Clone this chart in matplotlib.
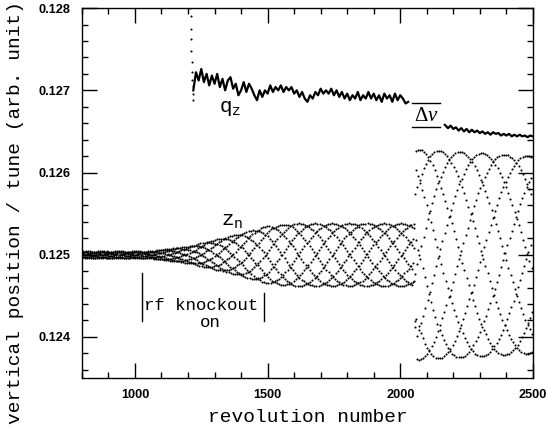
import numpy as np
import matplotlib.pyplot as plt
from matplotlib.ticker import MultipleLocator

plt.rcParams['mathtext.fontset'] = 'custom'
plt.rcParams['mathtext.tt'] = 'Liberation Mono'
plt.rcParams['mathtext.rm'] = 'Liberation Serif'
plt.rcParams['mathtext.it'] = 'Liberation Serif:italic'

# === tune q_z ===
# steep start of the tune trace (dots)
qz_drop_rev = [1209, 1210, 1211, 1212, 1213, 1214, 1215, 1216, 1217, 1218, 1219]
qz_drop = [0.12800, 0.12790, 0.12775, 0.12762, 0.12748, 0.12735, 0.12722,
           0.12712, 0.12695, 0.12688, 0.12705]

# before the tune jump
qz_rev_a = list(range(1220, 2031, 10))
qz_a = [0.12700, 0.12722, 0.12712, 0.12726, 0.12710, 0.12720, 0.12706, 0.12718,
        0.12708, 0.12720, 0.12704, 0.12714, 0.12700, 0.12712, 0.12716, 0.12702,
        0.12708, 0.12694, 0.12700, 0.12710, 0.12698, 0.12708, 0.12702, 0.12694,
        0.12688, 0.12700, 0.12692, 0.12700, 0.12696, 0.12706, 0.12698, 0.12704,
        0.12700, 0.12706, 0.12698, 0.12704, 0.12700, 0.12704, 0.12696, 0.12700,
        0.12692, 0.12698, 0.12690, 0.12686, 0.12694, 0.12690, 0.12698, 0.12694,
        0.12702, 0.12696, 0.12700, 0.12696, 0.12702, 0.12694, 0.12700, 0.12692,
        0.12698, 0.12690, 0.12696, 0.12688, 0.12694, 0.12690, 0.12698, 0.12688,
        0.12694, 0.12690, 0.12698, 0.12690, 0.12696, 0.12688, 0.12694, 0.12686,
        0.12696, 0.12690, 0.12694, 0.12686, 0.12696, 0.12688, 0.12694, 0.12690,
        0.12684, 0.12686]

# after the tune jump
qz_rev_b = [2168] + list(range(2180, 2501, 10))
qz_b = [0.12658, 0.12654, 0.12657, 0.12653, 0.12655, 0.12651, 0.12654, 0.12650,
        0.12653, 0.12649, 0.12652, 0.12649, 0.12651, 0.12648, 0.12650, 0.12647,
        0.12649, 0.12646, 0.12649, 0.12647, 0.12648, 0.12645, 0.12647, 0.12645,
        0.12647, 0.12644, 0.12646, 0.12644, 0.12646, 0.12644, 0.12645, 0.12643,
        0.12645, 0.12644]

# === oscillation envelope of z_n ===
amp_rev = [800, 1050, 1200, 1365, 1500, 1600, 2052, 2056, 2500]
amp = [0.00004, 0.00004, 0.00010, 0.00023, 0.00035, 0.00038, 0.00038, 0.00128, 0.00120]
z_center = 0.125

# === turn-by-turn positions from envelope and tune ===
rev = np.arange(800, 2501)
tune_rev = np.array(qz_rev_a + qz_rev_b)
tune = np.array(qz_a + qz_b)
q_n = np.interp(rev, tune_rev, tune)
phase = 2 * np.pi * np.cumsum(q_n)
z_n = z_center + np.interp(rev, amp_rev, amp) * np.cos(phase + 0.6)

# === plot ===
fig = plt.figure(figsize=(5.46, 4.29), dpi=100)
ax = fig.add_axes([0.150, 0.119, 0.826, 0.862])

ax.plot(rev, z_n, 'o', ms=1.5, mew=0, color='black')
ax.plot(qz_drop_rev, qz_drop, 'o', ms=1.5, mew=0, color='black')
ax.plot(qz_rev_a, qz_a, '-', lw=1.6, color='black')
ax.plot(qz_rev_b, qz_b, '-', lw=1.6, color='black')

ax.set_xlim(800, 2500)
ax.set_ylim(0.1235, 0.128)

ax.xaxis.set_major_locator(MultipleLocator(500))
ax.xaxis.set_minor_locator(MultipleLocator(100))
ax.yaxis.set_major_locator(MultipleLocator(0.001))
ax.yaxis.set_minor_locator(MultipleLocator(0.0002))
ax.tick_params(which='both', direction='in', top=True, right=True, width=1.0)
ax.tick_params(which='major', length=11, pad=8)
ax.tick_params(which='minor', length=4.5)
ax.set_xticks([1000, 1500, 2000, 2500])
ax.set_yticks([0.124, 0.125, 0.126, 0.127, 0.128])
ax.set_yticklabels(['0.124', '0.125', '0.126', '0.127', '0.128'])
for lab in ax.get_xticklabels() + ax.get_yticklabels():
    lab.set_fontfamily('Liberation Sans')
    lab.set_fontsize(9.2)
    lab.set_fontweight('bold')
for s in ax.spines.values():
    s.set_linewidth(1.0)

ax.set_xlabel('revolution number', family='Liberation Mono', fontsize=14)
ax.xaxis.set_label_coords(0.5, -0.085)
ax.set_ylabel('vertical position / tune (arb. unit)', family='Liberation Mono',
              fontsize=14)
ax.yaxis.set_label_coords(-0.128, 0.447)

# === annotations ===
ax.text(1358, 0.12678, r'$\mathtt{q}_\mathtt{z}$', fontsize=15, ha='center', va='center')
ax.text(1365, 0.12542, r'$\mathtt{z}_\mathtt{n}$', fontsize=15, ha='center', va='center')
ax.text(1249, 0.12438, 'rf knockout', family='Liberation Mono', fontsize=12.5,
        ha='center', va='center')
ax.text(1282, 0.12418, 'on', family='Liberation Mono', fontsize=12.5,
        ha='center', va='center')
ax.plot([1026, 1026], [0.12419, 0.12478], color='black', lw=1.0)
ax.plot([1485, 1485], [0.12419, 0.12453], color='black', lw=1.0)

ax.plot([2044, 2149], [0.12684, 0.12684], color='black', lw=1.0)
ax.plot([2044, 2149], [0.12655, 0.12655], color='black', lw=1.0)
ax.text(2097, 0.12670, r'$\Delta\nu$', fontsize=15, ha='center', va='center')

fig.savefig('out.png', dpi=100)
